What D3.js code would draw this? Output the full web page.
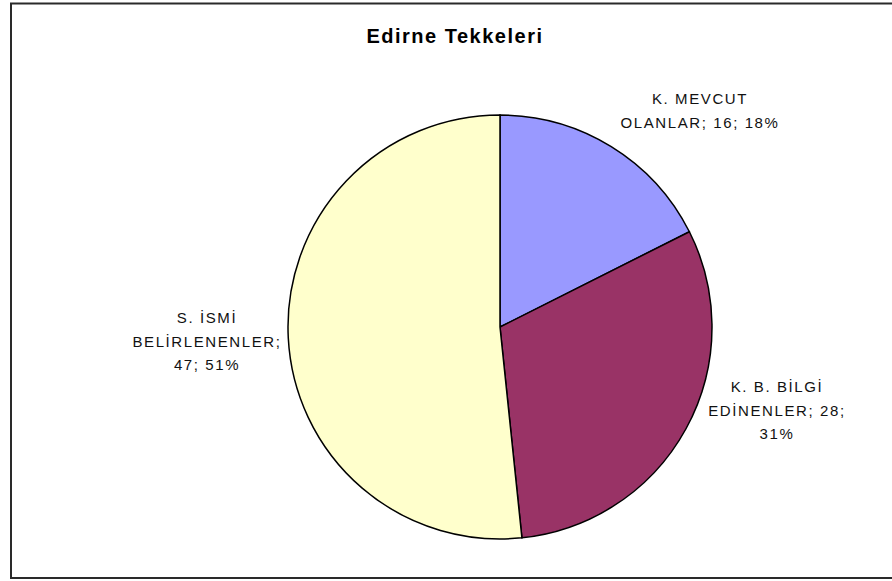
<!DOCTYPE html>
<html>
<head>
<meta charset="utf-8">
<script src="https://cdn.jsdelivr.net/npm/d3@7"></script>
<style>
  body { margin: 0; background: #fff; }
  text { font-family: "Liberation Sans", Arial, sans-serif; }
</style>
</head>
<body>
<div id="chart"></div>
<script>
// data
var categories = ["K. MEVCUT OLANLAR", "K. B. BİLGİ EDİNENLER", "S. İSMİ BELİRLENENLER"];
var values = [16, 28, 47];
var percents = ["18%", "31%", "51%"];
var colors = ["#9999FF", "#993366", "#FFFFCC"];
// label text split into lines the way the chart wraps them
var labelLines = [
    ["K. MEVCUT", "OLANLAR; 16; 18%"],
    ["K. B. BİLGİ", "EDİNENLER; 28;", "31%"],
    ["S. İSMİ", "BELİRLENENLER;", "47; 51%"]
];

var width = 892, height = 581;
var cx = 500, cy = 327, radius = 212;

var svg = d3.select("#chart").append("svg")
    .attr("width", width)
    .attr("height", height);

// chart frame (right side runs off the picture)
svg.append("rect")
    .attr("x", 11).attr("y", 3.5)
    .attr("width", 900).attr("height", 574.5)
    .attr("fill", "none")
    .attr("stroke", "#2a2a2a")
    .attr("stroke-width", 2);

svg.append("text")
    .attr("x", 455)
    .attr("y", 43)
    .attr("text-anchor", "middle")
    .style("font-size", "20px")
    .style("font-weight", "bold")
    .style("letter-spacing", "1.5px")
    .text("Edirne Tekkeleri");

var pie = d3.pie().sort(null).value(function (d) { return d; });
var arc = d3.arc().innerRadius(0).outerRadius(radius);

var g = svg.append("g").attr("transform", "translate(" + cx + "," + cy + ")");

g.selectAll("path")
    .data(pie(values))
    .enter()
    .append("path")
    .attr("d", arc)
    .attr("fill", function (d, i) { return colors[i]; })
    .attr("stroke", "#000")
    .attr("stroke-width", 1.5);

// label anchors, placed outside each slice like the excel chart
var labelPos = [[700, 104], [777, 392], [207, 323]];
var lineH = 23.5;

labelLines.forEach(function (lines, i) {
    var t = svg.append("text")
        .attr("text-anchor", "middle")
        .style("font-size", "15px")
        .style("letter-spacing", "1.6px")
        .attr("fill", "#111");
    lines.forEach(function (s, j) {
        t.append("tspan")
            .attr("x", labelPos[i][0])
            .attr("y", labelPos[i][1] + j * lineH)
            .text(s);
    });
});
</script>
</body>
</html>
